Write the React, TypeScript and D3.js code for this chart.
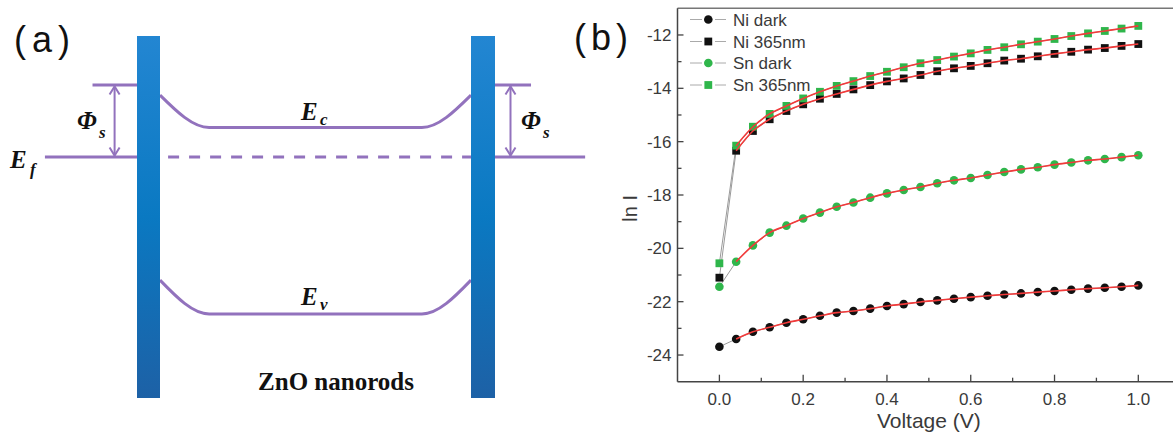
import React from 'react';
import * as d3 from 'd3';

// ---- panel (b) data: ln I vs voltage ----
const voltage = [
  0, 0.04, 0.08, 0.12, 0.16, 0.2, 0.24, 0.28, 0.32, 0.36, 0.4, 0.44, 0.48,
  0.52, 0.56, 0.6, 0.64, 0.68, 0.72, 0.76, 0.8, 0.84, 0.88, 0.92, 0.96, 1.0,
];
const niDark = [
  -23.69, -23.4, -23.13, -22.96, -22.79, -22.66, -22.53, -22.41, -22.35, -22.26,
  -22.16, -22.09, -22.01, -21.95, -21.89, -21.83, -21.78, -21.73, -21.69, -21.64,
  -21.6, -21.55, -21.51, -21.48, -21.44, -21.39,
];
const ni365 = [
  -21.1, -16.34, -15.6, -15.16, -14.85, -14.6, -14.39, -14.21, -14.04, -13.88,
  -13.74, -13.63, -13.5, -13.36, -13.25, -13.16, -13.06, -12.96, -12.89, -12.8,
  -12.71, -12.63, -12.55, -12.49, -12.41, -12.34,
];
const snDark = [
  -21.44, -20.5, -19.89, -19.41, -19.15, -18.88, -18.66, -18.44, -18.28, -18.1,
  -17.94, -17.81, -17.7, -17.56, -17.45, -17.36, -17.25, -17.14, -17.04, -16.96,
  -16.86, -16.78, -16.7, -16.65, -16.58, -16.51,
];
const sn365 = [
  -20.56, -16.15, -15.44, -14.96, -14.66, -14.38, -14.13, -13.91, -13.73, -13.54,
  -13.38, -13.21, -13.06, -12.94, -12.81, -12.69, -12.56, -12.46, -12.35, -12.25,
  -12.15, -12.04, -11.94, -11.85, -11.76, -11.66,
];

const seriesNames = ['Ni dark', 'Ni 365nm', 'Sn dark', 'Sn 365nm'];
const seriesValues = [niDark, ni365, snDark, sn365];
const seriesShapes = ['circle', 'square', 'circle', 'square'];
const seriesColors = ['#111111', '#111111', '#2fb64b', '#2fb64b'];

const xTicks = [0, 0.2, 0.4, 0.6, 0.8, 1.0];
const xMinorTicks = [0.1, 0.3, 0.5, 0.7, 0.9];
const yTicks = [-24, -22, -20, -18, -16, -14, -12];
const yMinorTicks = [-23, -21, -19, -17, -15, -13];

// ---- panel (a) band diagram (energies relative to Ef, position along rod 0..1) ----
const bandLabels = ['c', 'v'];
const bandSurface = [0.86, -1.71];
const bandBulk = [0.41, -2.18];
const barrierTop = 1;
const depletionWidth = 0.158;

const W = 1173;
const H = 434;

const purple = '#9272bd';
const serif = '"Liberation Serif", "Times New Roman", serif';
const sans = '"Liberation Sans", Arial, sans-serif';

function Marker({ shape, cx, cy, color, size = 8 }) {
  if (shape === 'circle') return <circle cx={cx} cy={cy} r={size / 2} fill={color} />;
  return <rect x={cx - size / 2} y={cy - size / 2} width={size} height={size} fill={color} />;
}

function PanelA() {
  // position along the rod and energy scales
  const x = d3.scaleLinear().domain([0, 1]).range([160, 471]);
  const y = d3.scaleLinear().domain([0, 1]).range([157, 85]);

  const band = (i) =>
    d3
      .line()
      .x((d) => x(d[0]))
      .y((d) => y(d[1]))
      .curve(d3.curveMonotoneX)([
      [0, bandSurface[i]],
      [depletionWidth, bandBulk[i]],
      [1 - depletionWidth, bandBulk[i]],
      [1, bandSurface[i]],
    ]);

  const arrow = (ax) => {
    const y0 = y(barrierTop) + 1.5;
    const y1 = y(0) - 1.5;
    return (
      <g stroke={purple} strokeWidth={2} fill="none">
        <line x1={ax} x2={ax} y1={y0} y2={y1} />
        <polyline points={`${ax - 5},${y0 + 8} ${ax},${y0} ${ax + 5},${y0 + 8}`} />
        <polyline points={`${ax - 5},${y1 - 8} ${ax},${y1} ${ax + 5},${y1 - 8}`} />
      </g>
    );
  };

  const barW = 23;
  return (
    <g>
      <defs>
        <linearGradient id="barGrad" x1="0" x2="0" y1="0" y2="1">
          <stop offset="0" stopColor="#2386d2" />
          <stop offset="0.5" stopColor="#0a79c2" />
          <stop offset="1" stopColor="#1d61a6" />
        </linearGradient>
      </defs>
      <text x={14} y={52} fontFamily={sans} fontSize={36} letterSpacing={6} fill="#111">
        (a)
      </text>

      {/* metal levels */}
      <g stroke={purple} strokeWidth={3}>
        <line x1={x(-0.37)} x2={x(0) - 5} y1={y(0)} y2={y(0)} />
        <line x1={x(-0.217)} x2={x(0) - 5} y1={y(barrierTop)} y2={y(barrierTop)} />
        <line x1={x(1) + 5} x2={x(1.367)} y1={y(0)} y2={y(0)} />
        <line x1={x(1) + 5} x2={x(1.193)} y1={y(barrierTop)} y2={y(barrierTop)} />
        <line x1={x(0.026)} x2={x(1)} y1={y(0)} y2={y(0)} strokeDasharray="11 10" />
      </g>
      {bandLabels.map((b, i) => (
        <path key={b} d={band(i)} fill="none" stroke={purple} strokeWidth={3} />
      ))}
      {arrow(x(-0.146))}
      {arrow(x(1.127))}

      <rect x={x(0) - barW} y={36} width={barW} height={362} fill="url(#barGrad)" />
      <rect x={x(1)} y={36} width={barW + 1} height={362} fill="url(#barGrad)" />

      <g fontFamily={serif} fontWeight="bold" fontStyle="italic" fill="#111">
        <text x={77} y={129} fontSize={25}>Φ</text>
        <text x={99} y={138} fontSize={17}>s</text>
        <text x={521} y={129} fontSize={25}>Φ</text>
        <text x={543} y={138} fontSize={17}>s</text>
        <text x={10} y={168} fontSize={25}>E</text>
        <text x={30} y={175} fontSize={17}>f</text>
        <text x={301} y={120} fontSize={25}>E</text>
        <text x={320} y={125} fontSize={17}>c</text>
        <text x={301} y={305} fontSize={25}>E</text>
        <text x={320} y={310} fontSize={17}>v</text>
      </g>
      <text
        x={336}
        y={390}
        textAnchor="middle"
        fontFamily={serif}
        fontWeight="bold"
        fontSize={25}
        fill="#111"
      >
        ZnO nanorods
      </text>
    </g>
  );
}

function PanelB() {
  const x = d3.scaleLinear().domain([-0.1, 1.1]).range([677.5, 1180.2]);
  const y = d3.scaleLinear().domain([-25, -11]).range([381.7, 8.3]);
  const left = x(-0.1);
  const right = x(1.1);
  const bottom = y(-25);
  const top = y(-11);

  const connect = d3
    .line()
    .x((d) => x(d[0]))
    .y((d) => y(d[1]));
  const fit = d3
    .line()
    .x((d) => x(d[0]))
    .y((d) => y(d[1]))
    .curve(d3.curveMonotoneX);

  const pts = (vals) => voltage.map((v, i) => [v, vals[i]]);
  const legendRows = [19.5, 41.5, 63, 85];

  return (
    <g fontFamily={sans}>
      <text x={574} y={50} fontFamily={sans} fontSize={36} letterSpacing={5} fill="#111">
        (b)
      </text>

      {/* frame */}
      <g stroke="#444" strokeWidth={1.5} fill="none">
        <line x1={left} x2={right} y1={top} y2={top} stroke="#777" />
        <line x1={left} x2={left} y1={top} y2={bottom} />
        <line x1={left} x2={right} y1={bottom} y2={bottom} />
        <line x1={right} x2={right} y1={top} y2={bottom} />
      </g>
      <g stroke="#444" strokeWidth={1.3}>
        {xTicks.map((t) => (
          <line key={t} x1={x(t)} x2={x(t)} y1={bottom} y2={bottom - 7} />
        ))}
        {xMinorTicks.map((t) => (
          <line key={t} x1={x(t)} x2={x(t)} y1={bottom} y2={bottom - 4} />
        ))}
        {yTicks.map((t) => (
          <line key={t} x1={left} x2={left + 6} y1={y(t)} y2={y(t)} />
        ))}
        {yMinorTicks.map((t) => (
          <line key={t} x1={left} x2={left + 4} y1={y(t)} y2={y(t)} />
        ))}
      </g>
      <g fill="#3a3a3a" fontSize={17}>
        {xTicks.map((t) => (
          <text key={t} x={x(t)} y={405} textAnchor="middle">
            {d3.format('.1f')(t)}
          </text>
        ))}
        {yTicks.map((t) => (
          <text key={t} x={left - 6} y={y(t) + 6} textAnchor="end">
            {t}
          </text>
        ))}
      </g>
      <text x={(left + right) / 2} y={428} textAnchor="middle" fontSize={21} fill="#3a3a3a">
        Voltage (V)
      </text>
      <text
        transform={`translate(637,${y(-18.5)}) rotate(-90)`}
        textAnchor="middle"
        fontSize={20}
        fill="#3a3a3a"
      >
        ln I
      </text>

      {/* thin connecting lines */}
      {seriesValues.map((vals, s) => (
        <path key={s} d={connect(pts(vals))} fill="none" stroke="#9a9a9a" strokeWidth={1} />
      ))}
      {/* markers */}
      {seriesValues.map((vals, s) => (
        <g key={s}>
          {voltage.map((v, i) => (
            <Marker
              key={i}
              shape={seriesShapes[s]}
              cx={x(v)}
              cy={y(vals[i])}
              color={seriesColors[s]}
              size={seriesShapes[s] === 'circle' ? 8.6 : 7.8}
            />
          ))}
        </g>
      ))}
      {/* fitted curves */}
      {seriesValues.map((vals, s) => (
        <path
          key={s}
          d={fit(pts(vals).slice(1))}
          fill="none"
          stroke="#f23a3a"
          strokeWidth={1.6}
        />
      ))}

      {/* legend */}
      {seriesNames.map((name, s) => (
        <g key={name}>
          <line x1={690} x2={702} y1={legendRows[s]} y2={legendRows[s]} stroke="#aaa" strokeWidth={1} />
          <line x1={715} x2={726} y1={legendRows[s]} y2={legendRows[s]} stroke="#aaa" strokeWidth={1} />
          <Marker
            shape={seriesShapes[s]}
            cx={708.3}
            cy={legendRows[s]}
            color={seriesColors[s]}
            size={seriesShapes[s] === 'circle' ? 8.6 : 7.8}
          />
          <text x={733} y={legendRows[s] + 6} fontSize={17} fill="#3a3a3a">
            {name}
          </text>
        </g>
      ))}
    </g>
  );
}

export default function App() {
  return (
    <svg
      width={W}
      height={H}
      viewBox={`0 0 ${W} ${H}`}
      style={{ position: 'absolute', left: 0, top: 0, background: '#fff' }}
    >
      <rect width={W} height={H} fill="#fff" />
      <PanelA />
      <PanelB />
    </svg>
  );
}
